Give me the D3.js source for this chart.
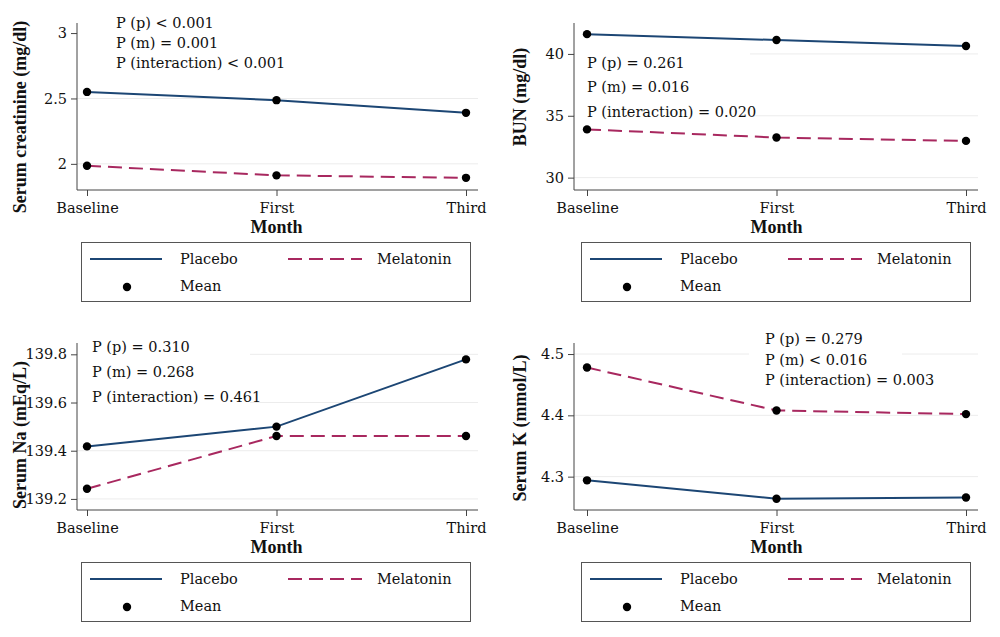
<!DOCTYPE html>
<meta charset="utf-8">
<style>
  body { margin: 0; background: #fff; }
  svg { display: block; font-family: "DejaVu Serif", serif; }
  .grid line { stroke: #ececec; stroke-width: 1; }
  .axis path, .axis line { stroke: #444; stroke-width: 1; }
  .axis text { font-size: 14.5px; fill: #111; font-family: "DejaVu Serif", serif; }
  .ttl { font-size: 18px; font-weight: bold; fill: #111; font-family: "Liberation Serif", serif; }
  .note { font-size: 14.5px; fill: #111; }
  .leg text { font-size: 14.5px; fill: #111; }
</style>
<body></body>
<script src="https://d3js.org/d3.v7.min.js"></script>
<script>
// data
var months = ["Baseline", "First", "Third"];
var groups = ["Placebo", "Melatonin"];

var creatPlacebo = [2.55, 2.487, 2.39];
var creatMelatonin = [1.985, 1.912, 1.893];
var bunPlacebo = [41.6, 41.12, 40.64];
var bunMelatonin = [33.9, 33.24, 32.97];
var naPlacebo = [139.418, 139.5, 139.779];
var naMelatonin = [139.242, 139.461, 139.461];
var kPlacebo = [4.294, 4.264, 4.266];
var kMelatonin = [4.478, 4.408, 4.402];

var creatTicks = [2, 2.5, 3];
var bunTicks = [30, 35, 40];
var naTicks = [139.2, 139.4, 139.6, 139.8];
var kTicks = [4.3, 4.4, 4.5];

var creatNotes = ["P (p) < 0.001", "P (m) = 0.001", "P (interaction) < 0.001"];
var bunNotes = ["P (p) = 0.261", "P (m) = 0.016", "P (interaction) = 0.020"];
var naNotes = ["P (p) = 0.310", "P (m) = 0.268", "P (interaction) = 0.461"];
var kNotes = ["P (p) = 0.279", "P (m) < 0.016", "P (interaction) = 0.003"];

var colPlacebo = "#1c4674", colMelatonin = "#a8285f";
var dash = "14,7";

var svg = d3.select("body").append("svg")
  .attr("width", 1000).attr("height", 637);

// layout of each panel (offsets, axis domain, note position, white box behind notes)
var panels = [
  {ox: 0, oy: 0, axisX: 77, dom: [1.8, 3.077], ticks: creatTicks, p: creatPlacebo, m: creatMelatonin,
   title: "Serum creatinine (mg/dl)", titleY: 117, notes: creatNotes, nx: 116, ny: 23, ns: 20,
   box: [78, 8, 478, 72]},
  {ox: 500, oy: 0, axisX: 74, dom: [29.0, 42.5], ticks: bunTicks, p: bunPlacebo, m: bunMelatonin,
   title: "BUN (mg/dl)", titleY: 97, notes: bunNotes, nx: 87, ny: 62.7, ns: 24.5,
   box: [75, 48, 250, 124]},
  {ox: 0, oy: 320, axisX: 77, dom: [139.154, 139.847], ticks: naTicks, p: naPlacebo, m: naMelatonin,
   title: "Serum Na (mEq/L)", titleY: 115, notes: naNotes, nx: 92, ny: 26.7, ns: 25,
   box: [78, 12, 250, 92]},
  {ox: 500, oy: 320, axisX: 74, dom: [4.2456, 4.518], ticks: kTicks, p: kPlacebo, m: kMelatonin,
   title: "Serum K (mmol/L)", titleY: 108, notes: kNotes, nx: 265, ny: 19, ns: 20.5,
   box: [249, 8, 402, 66]}
];

panels.forEach(function(cfg) {
  var g = svg.append("g").attr("transform", "translate(" + cfg.ox + "," + cfg.oy + ")");

  var x = d3.scalePoint().domain(months).range([87, 466]);
  var y = d3.scaleLinear().domain(cfg.dom).range([190, 23]);
  var right = 478;

  // gridlines
  g.append("g").attr("class", "grid")
    .selectAll("line").data(cfg.ticks).enter().append("line")
    .attr("x1", cfg.axisX).attr("x2", right)
    .attr("y1", function(d) { return y(d); })
    .attr("y2", function(d) { return y(d); });

  // white box behind the p-values
  g.append("rect")
    .attr("x", cfg.box[0]).attr("y", cfg.box[1])
    .attr("width", cfg.box[2] - cfg.box[0]).attr("height", cfg.box[3] - cfg.box[1])
    .attr("fill", "#fff");

  // y axis
  var ya = g.append("g").attr("class", "axis")
    .attr("transform", "translate(" + cfg.axisX + ",0)")
    .call(d3.axisLeft(y).tickValues(cfg.ticks).tickSize(6).tickSizeOuter(0).tickPadding(4)
      .tickFormat(function(d) { return String(d); }));
  ya.select(".domain").attr("d", "M0,23V190");

  // x axis
  var xa = g.append("g").attr("class", "axis")
    .attr("transform", "translate(0,190)")
    .call(d3.axisBottom(x).tickSize(6).tickSizeOuter(0).tickPadding(5));
  xa.select(".domain").attr("d", "M" + cfg.axisX + ",0H" + right);
  xa.selectAll("text").attr("dy", "0.8em");

  // titles
  g.append("text").attr("class", "ttl")
    .attr("transform", "translate(20," + cfg.titleY + ") rotate(-90)")
    .attr("text-anchor", "middle").attr("dy", "0.35em")
    .text(cfg.title);
  g.append("text").attr("class", "ttl")
    .attr("x", x("First")).attr("y", 233)
    .attr("text-anchor", "middle")
    .text("Month");

  // notes
  g.append("g").selectAll("text").data(cfg.notes).enter().append("text")
    .attr("class", "note")
    .attr("x", cfg.nx)
    .attr("y", function(d, i) { return cfg.ny + i * cfg.ns; })
    .attr("dy", "0.35em")
    .text(function(d) { return d; });

  // lines
  var line = d3.line()
    .x(function(d, i) { return x(months[i]); })
    .y(function(d) { return y(d); });

  g.append("path").datum(cfg.p)
    .attr("d", line).attr("fill", "none")
    .attr("stroke", colPlacebo).attr("stroke-width", 2);
  g.append("path").datum(cfg.m)
    .attr("d", line).attr("fill", "none")
    .attr("stroke", colMelatonin).attr("stroke-width", 2)
    .attr("stroke-dasharray", dash);

  // mean points
  g.append("g").selectAll("circle").data(cfg.p.concat(cfg.m)).enter().append("circle")
    .attr("cx", function(d, i) { return x(months[i % 3]); })
    .attr("cy", function(d) { return y(d); })
    .attr("r", 4.2).attr("fill", "#000");

  // legend
  var leg = g.append("g").attr("class", "leg");
  leg.append("rect")
    .attr("x", 81.5).attr("y", 242.5).attr("width", 389).attr("height", 59)
    .attr("fill", "#fff").attr("stroke", "#555").attr("stroke-width", 1);
  leg.append("line").attr("x1", 90).attr("x2", 162).attr("y1", 259).attr("y2", 259)
    .attr("stroke", colPlacebo).attr("stroke-width", 2);
  leg.append("text").attr("x", 180).attr("y", 259).attr("dy", "0.35em").text(groups[0]);
  leg.append("line").attr("x1", 288).attr("x2", 362).attr("y1", 259).attr("y2", 259)
    .attr("stroke", colMelatonin).attr("stroke-width", 2).attr("stroke-dasharray", dash);
  leg.append("text").attr("x", 377).attr("y", 259).attr("dy", "0.35em").text(groups[1]);
  leg.append("circle").attr("cx", 127).attr("cy", 287).attr("r", 4.2).attr("fill", "#000");
  leg.append("text").attr("x", 180).attr("y", 286).attr("dy", "0.35em").text("Mean");
});
</script>
